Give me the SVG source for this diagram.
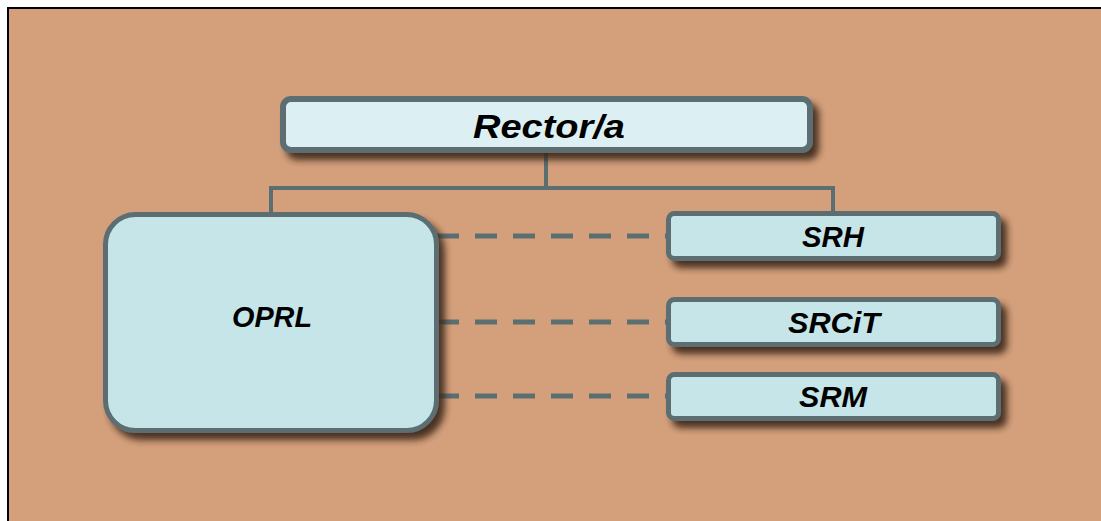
<svg xmlns="http://www.w3.org/2000/svg" width="1101" height="521" viewBox="0 0 1101 521">
<defs>
<filter id="sh" x="-10%" y="-20%" width="130%" height="160%">
<feGaussianBlur in="SourceAlpha" stdDeviation="3.5"/>
<feOffset dx="6" dy="7" result="b"/>
<feFlood flood-color="#3a2618" flood-opacity="0.9"/>
<feComposite in2="b" operator="in"/>
<feMerge><feMergeNode/><feMergeNode in="SourceGraphic"/></feMerge>
</filter>
<style>
.box{fill:#c5e5e8;stroke:#5b6e72;stroke-width:5}
.top{fill:#dcf0f3;stroke:#5b6e72;stroke-width:6}
.lbl{font-family:"Liberation Sans",Arial,sans-serif;font-weight:bold;font-style:italic;font-size:30px;fill:#000;text-anchor:middle}
.ln{stroke:#5b6e72;stroke-width:4;fill:none}
.dash{stroke:#5b6e72;stroke-width:5;fill:none;stroke-dasharray:22 16}
</style>
</defs>
<rect x="8" y="8" width="1100" height="520" fill="#d4a07c" stroke="#000" stroke-width="2"/>
<g id="connectors">
<path class="ln" d="M546 153V188M271 188H834M271 186V214M833 186V212"/>
<path class="dash" d="M437 236H666M437 322H666M437 396H666"/>
</g>
<g id="rector">
<rect class="top" x="283" y="99" width="527" height="51" rx="8" filter="url(#sh)"/>
<text class="lbl" x="549" y="138" style="font-size:33px" textLength="152" lengthAdjust="spacingAndGlyphs">Rector/a</text>
</g>
<g id="oprl">
<rect class="box" x="105.5" y="214.5" width="331" height="216" rx="30" filter="url(#sh)"/>
<text class="lbl" x="272" y="327" textLength="80" lengthAdjust="spacingAndGlyphs">OPRL</text>
</g>
<g id="srh">
<rect class="box" x="668.5" y="213.5" width="330" height="45" rx="6" filter="url(#sh)"/>
<text class="lbl" x="833" y="247" textLength="62" lengthAdjust="spacingAndGlyphs">SRH</text>
</g>
<g id="srcit">
<rect class="box" x="668.5" y="299.5" width="330" height="45" rx="6" filter="url(#sh)"/>
<text class="lbl" x="834" y="333" textLength="92" lengthAdjust="spacingAndGlyphs">SRCiT</text>
</g>
<g id="srm">
<rect class="box" x="668.5" y="374.5" width="330" height="44" rx="6" filter="url(#sh)"/>
<text class="lbl" x="833" y="407" textLength="68" lengthAdjust="spacingAndGlyphs">SRM</text>
</g>
</svg>
